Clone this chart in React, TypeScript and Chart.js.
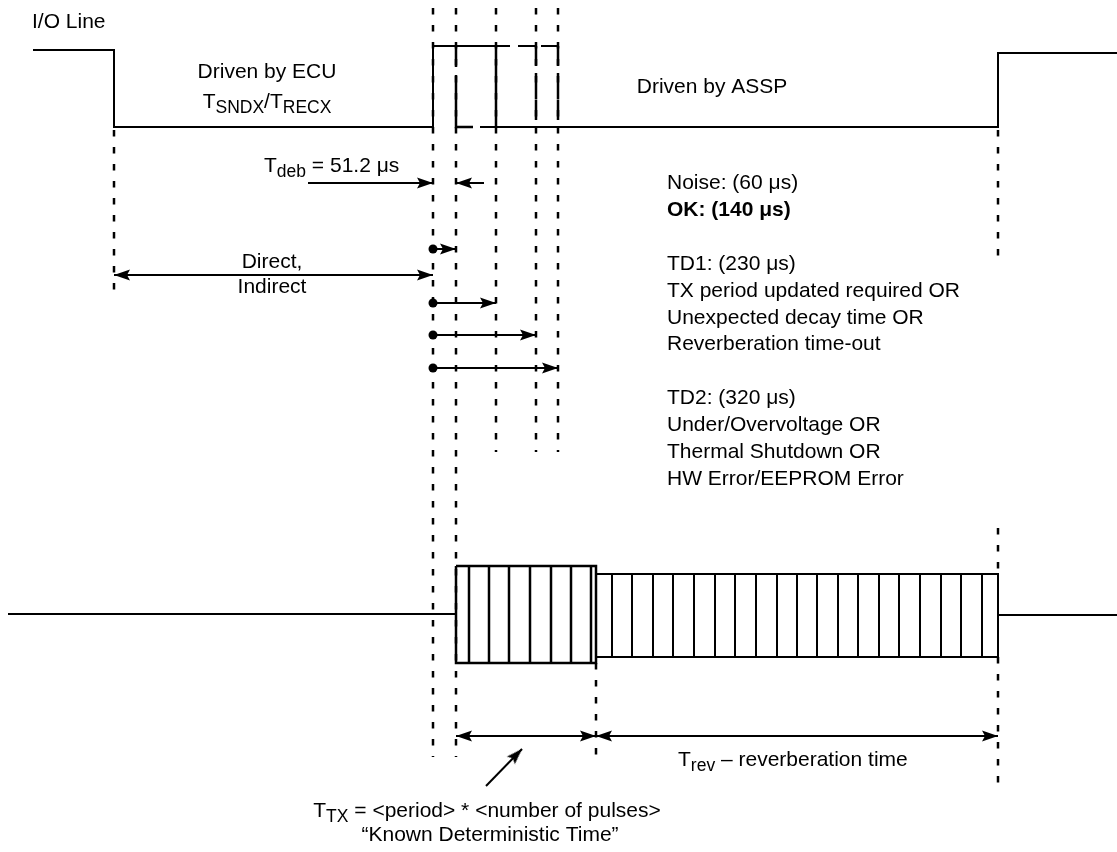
import React, { useEffect, useRef } from "react";
import { Chart, registerables } from "chart.js";

Chart.register(...registerables);

const W = 1117;
const H = 852;

// ---- I/O line waveform (diagram units: x = time axis, y = level axis, top = 0) ----
const ioLineX = [33, 114, 114, 433, 433, 510];
const ioLineY = [50, 50, 127, 127, 46, 46];
const ioTopSegX = [518, 536, 541, 558];
const ioTopLevel = 46;
const ioLowLevel = 127;
const ioFallX = 456;
const ioFallGap = [67, 75];
const ioLowSegX = [456, 473];
const ioReturnX = [480, 998, 998, 1117];
const ioReturnY = [127, 127, 53, 53];
const ioSolidEdgeX = [496];
const ioDashedEdgeX = [536, 558];

// ---- dashed guide lines ----
const guideX = [433, 456, 496, 536, 558, 114, 998, 998, 998, 596];
const guideTop = [8, 8, 8, 8, 8, 130, 130, 528, 657, 663];
const guideBottom = [757, 757, 452, 452, 452, 300, 265, 574, 790, 757];

// ---- transmit line with pulses ----
const txLineLeftX = [8, 456];
const txLineRightX = [998, 1117];
const txLineY = 614;
const burst1Edges = [456, 596];
const burst1Top = 566;
const burst1Bottom = 663;
const burst1Pulses = [469, 489, 509, 530, 551, 571, 591];
const burst2Edges = [596, 998];
const burst2Top = 574;
const burst2Bottom = 657;
const burst2Pulses = [612, 632, 653, 673, 694, 715, 735, 756, 777, 797, 817, 838, 858, 879, 899, 920, 941, 961, 982];

// ---- arrows: start, end, head at start?, head at end?, dot at start? ----
const arrowX1 = [308, 484, 114, 433, 433, 433, 433, 456, 596, 486];
const arrowY1 = [183, 183, 275, 249, 303, 335, 368, 736, 736, 786];
const arrowX2 = [433, 456, 433, 456, 496, 536, 558, 596, 998, 522];
const arrowY2 = [183, 183, 275, 249, 303, 335, 368, 736, 736, 749];
const arrowHeadStart = [false, false, true, false, false, false, false, true, true, false];
const arrowHeadEnd = [true, true, true, true, true, true, true, true, true, true];
const arrowDotStart = [false, false, false, true, true, true, true, false, false, false];

// ---- text labels (T_{x} = subscript) ----
const labelText = [
  "I/O Line",
  "Driven by ECU",
  "T_{SNDX}/T_{RECX}",
  "Driven by ASSP",
  "T_{deb} = 51.2 μs",
  "Direct,",
  "Indirect",
  "Noise: (60 μs)",
  "OK: (140 μs)",
  "TD1: (230 μs)",
  "TX period updated required OR",
  "Unexpected decay time OR",
  "Reverberation time-out",
  "TD2: (320 μs)",
  "Under/Overvoltage OR",
  "Thermal Shutdown OR",
  "HW Error/EEPROM Error",
  "T_{TX} = <period> * <number of pulses>",
  "“Known Deterministic Time”",
  "T_{rev} – reverberation time",
];
const labelX = [32, 267, 267, 712, 264, 272, 272, 667, 667, 667, 667, 667, 667, 667, 667, 667, 667, 487, 490, 678];
const labelY = [28, 78, 108, 93, 172, 268, 293, 189, 216, 270, 297, 324, 350, 404, 431, 458, 485, 817, 841, 766];
const labelAlign = ["left", "center", "center", "center", "left", "center", "center", "left", "left", "left", "left", "left", "left", "left", "left", "left", "left", "center", "center", "left"];
const labelBold = [false, false, false, false, false, false, false, false, true, false, false, false, false, false, false, false, false, false, false, false];

const FONT = '"Liberation Sans", Arial, Helvetica, sans-serif';
const BASE_SIZE = 21;
const SUB_SIZE = 17.5;
const SUB_SHIFT = 5;

function makeArrowHead(): HTMLCanvasElement {
  const c = document.createElement("canvas");
  c.width = 36;
  c.height = 14;
  const g = c.getContext("2d")!;
  g.fillStyle = "#000";
  g.beginPath();
  g.moveTo(18, 7);
  g.lineTo(2, 1.5);
  g.lineTo(5, 7);
  g.lineTo(2, 12.5);
  g.closePath();
  g.fill();
  return c;
}

type Pt = { x: number; y: number | null };

function line(data: Pt[], width = 2, dash: number[] = [], extra: any = {}) {
  return {
    data,
    showLine: true,
    borderColor: "#000",
    backgroundColor: "#000",
    borderWidth: width,
    borderDash: dash,
    borderCapStyle: "butt",
    borderJoinStyle: "miter",
    pointRadius: 0,
    spanGaps: false,
    tension: 0,
    ...extra,
  };
}

function zipPts(xs: number[], ys: number[]): Pt[] {
  return xs.map((x, i) => ({ x, y: ys[i] }));
}

function verticals(xs: number[], top: number, bottom: number): Pt[] {
  const pts: Pt[] = [];
  xs.forEach((x) => {
    pts.push({ x, y: top }, { x, y: bottom }, { x, y: null });
  });
  return pts;
}

function parseRich(text: string) {
  const runs: { t: string; sub: boolean }[] = [];
  const re = /_\{([^}]*)\}/g;
  let last = 0;
  let m: RegExpExecArray | null;
  while ((m = re.exec(text))) {
    if (m.index > last) runs.push({ t: text.slice(last, m.index), sub: false });
    runs.push({ t: m[1], sub: true });
    last = m.index + m[0].length;
  }
  if (last < text.length) runs.push({ t: text.slice(last), sub: false });
  return runs;
}

const labelsPlugin = {
  id: "diagramLabels",
  afterDatasetsDraw(chart: any) {
    const ctx = chart.ctx as CanvasRenderingContext2D;
    const xs = chart.scales.x;
    const ys = chart.scales.y;
    ctx.save();
    ctx.fillStyle = "#000";
    ctx.textBaseline = "alphabetic";
    ctx.textAlign = "left";
    labelText.forEach((text, i) => {
      const px = xs.getPixelForValue(labelX[i]);
      const py = ys.getPixelForValue(labelY[i]);
      const weight = labelBold[i] ? "bold " : "";
      const runs = parseRich(text).map((r) => {
        ctx.font = `${weight}${r.sub ? SUB_SIZE : BASE_SIZE}px ${FONT}`;
        return { ...r, w: ctx.measureText(r.t).width };
      });
      const total = runs.reduce((s, r) => s + r.w, 0);
      let cx = labelAlign[i] === "center" ? px - total / 2 : px;
      runs.forEach((r) => {
        ctx.font = `${weight}${r.sub ? SUB_SIZE : BASE_SIZE}px ${FONT}`;
        ctx.fillText(r.t, cx, py + (r.sub ? SUB_SHIFT : 0));
        cx += r.w;
      });
    });
    ctx.restore();
  },
};

export default function App() {
  const ref = useRef<HTMLCanvasElement | null>(null);

  useEffect(() => {
    if (!ref.current) return;
    const head = makeArrowHead();
    const datasets: any[] = [];

    // dashed guides (drawn first, behind)
    const guidePts: Pt[] = [];
    guideX.forEach((x, i) => {
      guidePts.push({ x, y: guideTop[i] }, { x, y: guideBottom[i] }, { x, y: null });
    });
    datasets.push(line(guidePts, 2.5, [6.5, 10.5]));

    // I/O waveform
    datasets.push(line(zipPts(ioLineX, ioLineY), 2));
    datasets.push(
      line(
        [
          { x: ioTopSegX[0], y: ioTopLevel },
          { x: ioTopSegX[1], y: ioTopLevel },
          { x: ioTopSegX[1], y: null },
          { x: ioTopSegX[2], y: ioTopLevel },
          { x: ioTopSegX[3], y: ioTopLevel },
        ],
        2
      )
    );
    datasets.push(
      line(
        [
          { x: ioFallX, y: ioTopLevel },
          { x: ioFallX, y: ioFallGap[0] },
          { x: ioFallX, y: null },
          { x: ioFallX, y: ioFallGap[1] },
          { x: ioFallX, y: ioLowLevel },
          { x: ioLowSegX[1], y: ioLowLevel },
        ],
        2.5
      )
    );
    datasets.push(line(zipPts(ioReturnX, ioReturnY), 2));
    datasets.push(line(verticals(ioSolidEdgeX, ioTopLevel, ioLowLevel), 2.5));
    datasets.push(line(verticals(ioDashedEdgeX, ioTopLevel, ioLowLevel), 2.5, [20, 7]));

    // TX line
    datasets.push(line(zipPts(txLineLeftX, [txLineY, txLineY]), 2));
    datasets.push(line(zipPts(txLineRightX, [txLineY + 1, txLineY + 1]), 2));
    // bursts
    const box = (e: number[], t: number, b: number): Pt[] => [
      { x: e[0], y: t },
      { x: e[1], y: t },
      { x: e[1], y: b },
      { x: e[0], y: b },
      { x: e[0], y: t },
    ];
    datasets.push(line(box(burst1Edges, burst1Top, burst1Bottom), 2.5));
    datasets.push(line(verticals(burst1Pulses, burst1Top, burst1Bottom), 2.5));
    datasets.push(line(box(burst2Edges, burst2Top, burst2Bottom), 2));
    datasets.push(line(verticals(burst2Pulses, burst2Top, burst2Bottom), 2));

    // arrows
    arrowX1.forEach((x1, i) => {
      const x2 = arrowX2[i];
      const y1 = arrowY1[i];
      const y2 = arrowY2[i];
      const ang = (Math.atan2(y2 - y1, x2 - x1) * 180) / Math.PI;
      const styles: any[] = [];
      const rots: number[] = [];
      const radii: number[] = [];
      if (arrowDotStart[i]) {
        styles.push("circle");
        rots.push(0);
        radii.push(4.5);
      } else if (arrowHeadStart[i]) {
        styles.push(head);
        rots.push(ang + 180);
        radii.push(5);
      } else {
        styles.push("circle");
        rots.push(0);
        radii.push(0);
      }
      if (arrowHeadEnd[i]) {
        styles.push(head);
        rots.push(ang);
        radii.push(5);
      } else {
        styles.push("circle");
        rots.push(0);
        radii.push(0);
      }
      datasets.push(
        line(
          [
            { x: x1, y: y1 },
            { x: x2, y: y2 },
          ],
          2,
          [],
          {
            pointStyle: styles,
            pointRotation: rots,
            pointRadius: radii,
            pointBorderWidth: 0,
            pointBackgroundColor: "#000",
          }
        )
      );
    });

    const chart = new Chart(ref.current, {
      type: "scatter",
      data: { datasets },
      options: {
        animation: false,
        responsive: true,
        maintainAspectRatio: false,
        events: [],
        layout: { padding: 0, autoPadding: false },
        plugins: { legend: { display: false }, tooltip: { enabled: false }, title: { display: false } },
        scales: {
          x: { type: "linear", min: 0, max: W, display: false },
          y: { type: "linear", min: 0, max: H, reverse: true, display: false },
        },
      },
      plugins: [labelsPlugin],
    } as any);
    return () => chart.destroy();
  }, []);

  return (
    <div style={{ position: "fixed", left: 0, top: 0, width: W, height: H, background: "#fff" }}>
      <canvas ref={ref} />
    </div>
  );
}
